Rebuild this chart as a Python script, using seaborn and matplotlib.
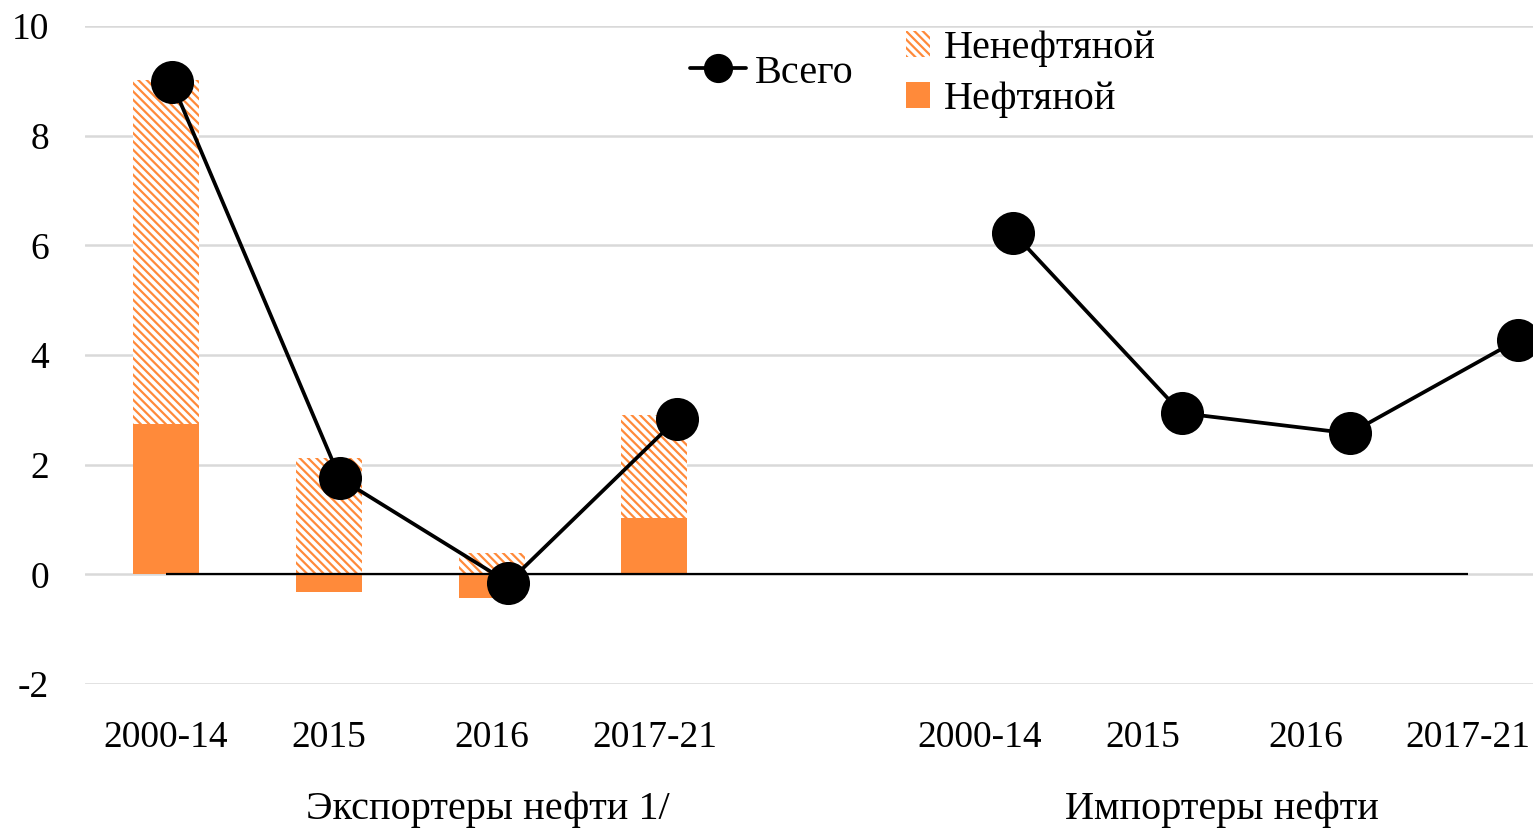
import numpy as np
import pandas as pd
import matplotlib
matplotlib.use("Agg")
import matplotlib.pyplot as plt
import seaborn as sns
from matplotlib.patches import Patch
from matplotlib.lines import Line2D

# ---- data ----
periods = ["2000-14", "2015", "2016", "2017-21"]
groups = ["Экспортеры нефти 1/", "Импортеры нефти"]
exp_oil = [2.75, -0.33, -0.44, 1.03]
exp_nonoil = [6.27, 2.12, 0.38, 1.87]
exp_total = [8.98, 1.75, -0.15, 2.83]
imp_total = [6.23, 2.94, 2.57, 4.28]
y_ticks = [-2, 0, 2, 4, 6, 8, 10]
legend_labels = ["Всего", "Ненефтяной", "Нефтяной"]

ORANGE = "#FF8A3A"
GRID = "#d9d9d9"

sns.set_theme(style="white")
plt.rcParams['font.family'] = ['Liberation Serif', 'DejaVu Serif']
plt.rcParams['hatch.linewidth'] = 1.6
plt.rcParams['text.color'] = 'black'
FS = 27
FS_BIG = 29

W, H = 1533, 832
fig = plt.figure(figsize=(W / 100, H / 100), dpi=100)
ax = fig.add_axes([85 / W, 1 - 684 / H, (1533 - 85) / W, (684 - 26) / H])

# bar frame: positions 0..3 (exporters), 5..8 (importers)
pos_exp = np.arange(4)
pos_imp = np.arange(5, 9)
oil = np.array(exp_oil)
nonoil = np.array(exp_nonoil)
hatch_top = nonoil + np.clip(oil, 0, None)

df_bars = pd.DataFrame({"pos": pos_exp, "nonoil_top": hatch_top, "oil": oil})

sns.barplot(data=df_bars, x="pos", y="nonoil_top", native_scale=True, width=0.405,
            color="white", edgecolor=ORANGE, linewidth=0, hatch="\\\\\\\\",
            saturation=1, errorbar=None, ax=ax, zorder=2)
sns.barplot(data=df_bars, x="pos", y="oil", native_scale=True, width=0.405,
            color=ORANGE, linewidth=0, saturation=1, errorbar=None, ax=ax, zorder=2)

ax.set_xlim(-0.4975, 8.397)
ax.set_ylim(-2, 10)
ax.set_yticks(y_ticks)
ax.set_yticklabels([str(t) for t in y_ticks], fontsize=FS)
ax.set_xticks(list(pos_exp) + list(pos_imp))
ax.set_xticklabels(periods + periods, fontsize=FS)
ax.tick_params(axis="both", length=0, colors="black")
ax.tick_params(axis="y", pad=26)
ax.tick_params(axis="x", pad=26)
ax.set_xlabel("")
ax.set_ylabel("")
ax.grid(axis="y", color=GRID, linewidth=1.8)
ax.grid(axis="x", visible=False)
ax.set_axisbelow(True)
for s in ax.spines.values():
    s.set_visible(False)
ax.hlines(0, 0, 8, color="black", linewidth=1.6, zorder=3)

# line on its own (secondary) category axis
ax2 = ax.twiny()
df_exp = pd.DataFrame({"pos": pos_exp, "total": exp_total})
df_imp = pd.DataFrame({"pos": pos_imp, "total": imp_total})
for d in (df_exp, df_imp):
    sns.lineplot(data=d, x="pos", y="total", color="black", linewidth=2.7,
                 marker="o", markersize=31, markeredgewidth=0, ax=ax2, zorder=5)
ax2.set_xlim(-0.515, 8.088)
ax2.set_ylim(-2, 10)
ax2.set_xticks([])
ax2.set_xlabel("")
ax2.set_ylabel("")
for s in ax2.spines.values():
    s.set_visible(False)

# group labels
fig.text(488 / W, 1 - 809 / H, groups[0], ha="center", va="center",
         fontsize=FS_BIG, color="black")
fig.text(1222 / W, 1 - 809 / H, groups[1], ha="center", va="center",
         fontsize=FS_BIG, color="black")

# legends
h_line = Line2D([0], [0], color="black", linewidth=2.7, marker="o", markersize=20)
leg1 = ax2.legend([h_line], [legend_labels[0]], loc="center left",
                  bbox_to_anchor=(690 / W, 1 - 73 / H), bbox_transform=fig.transFigure,
                  frameon=False, fontsize=FS_BIG, handlelength=1.4, handletextpad=0.2,
                  borderpad=0, borderaxespad=0, labelcolor="black")
ax2.add_artist(leg1)
h_non = Patch(facecolor="white", edgecolor=ORANGE, linewidth=0, hatch="\\\\\\\\")
h_oil = Patch(facecolor=ORANGE, edgecolor=ORANGE, linewidth=0)
leg2 = ax2.legend([h_non, h_oil], legend_labels[1:], loc="center left",
                  bbox_to_anchor=(906 / W, 1 - 74 / H), bbox_transform=fig.transFigure,
                  frameon=False, fontsize=FS_BIG, handlelength=0.6, handleheight=0.6,
                  handletextpad=0.35, labelspacing=0.35, borderpad=0, borderaxespad=0,
                  labelcolor="black")

fig.savefig("out.png", dpi=100)
